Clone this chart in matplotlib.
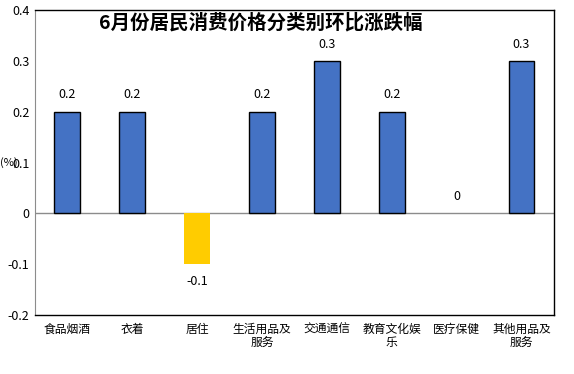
import numpy as np
import matplotlib
matplotlib.use('Agg')
import matplotlib.pyplot as plt

plt.rcParams['font.family'] = ['Noto Sans CJK SC', 'DejaVu Sans']

# Data
categories = ['食品烟酒', '衣着', '居住', '生活用品及\n服务', '交通通信', '教育文化娱\n乐', '医疗保健', '其他用品及\n服务']
values = [0.2, 0.2, -0.1, 0.2, 0.3, 0.2, 0.0, 0.3]
yticks = [-0.2, -0.1, 0, 0.1, 0.2, 0.3, 0.4]
ytick_labels = ['-0.2', '-0.1', '0', '0.1', '0.2', '0.3', '0.4']

fig = plt.figure(figsize=(5.74, 3.74), dpi=100)
ax = fig.add_axes([0.061, 0.158, 0.904, 0.815])

x = np.arange(len(categories))
colors = ['#FFCC00' if v < 0 else '#4472C4' for v in values]
edges = ['black' if v > 0 else 'none' for v in values]
ax.bar(x, values, width=0.4, color=colors, edgecolor=edges, linewidth=1.0, zorder=2)

for xi, v in zip(x, values):
    if v < 0:
        ax.text(xi, v - 0.035, f'{v:g}', ha='center', va='center', fontsize=9)
    else:
        ax.text(xi, v + 0.033, f'{v:g}', ha='center', va='center', fontsize=9)

ax.axhline(0, color='#8C8C8C', linewidth=1.0, zorder=1)
ax.set_xlim(-0.5, len(categories) - 0.5)
ax.set_ylim(-0.2, 0.4)
ax.set_yticks(yticks)
ax.set_yticklabels(ytick_labels, fontsize=9)
ax.set_xticks(x)
ax.set_xticklabels(categories, fontsize=8.5, linespacing=0.95)
ax.tick_params(axis='both', length=0, pad=4)
ax.tick_params(axis='x', pad=6)

for s in ['top', 'right', 'bottom']:
    ax.spines[s].set_color('black')
    ax.spines[s].set_linewidth(1.0)
ax.spines['left'].set_color('#8C8C8C')

ax.text(-0.05, 0.1, '(%)', transform=ax.get_yaxis_transform(), ha='center', va='center', fontsize=8)

ax.text(0.435, 0.96, '6月份居民消费价格分类别环比涨跌幅', transform=ax.transAxes,
        ha='center', va='center', fontsize=14, fontweight='bold')

plt.savefig('out.png', dpi=100)
